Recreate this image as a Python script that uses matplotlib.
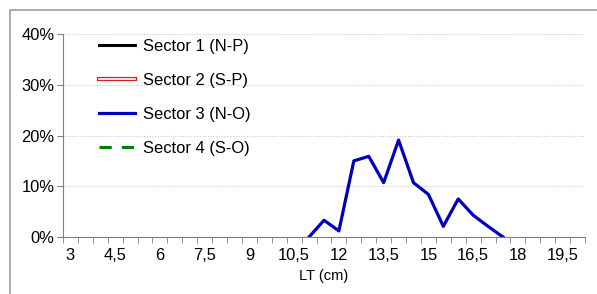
import numpy as np
import matplotlib.pyplot as plt
import matplotlib.patheffects as pe

plt.rcParams['font.family'] = ['Liberation Sans', 'DejaVu Sans']

# size classes (cm), 3 to 20 in steps of 0.5
lt_classes = [3 + 0.5 * i for i in range(35)]
tick_labels = ["3", "4,5", "6", "7,5", "9", "10,5", "12", "13,5", "15",
               "16,5", "18", "19,5"]

# frequencies (%) per sector, NaN = no data
nan = np.nan
sector1 = [nan] * 35
sector2 = [nan] * 35
sector4 = [nan] * 35
sector3 = [nan] * 16 + [0.0, 3.3, 1.2, 15.0, 15.9, 10.7, 19.1, 10.7, 8.4,
                        2.1, 7.5, 4.3, 2.1, 0.0] + [nan] * 5

fig = plt.figure(figsize=(5.97, 2.94), dpi=100)
# outer chart border
fig.patches.append(plt.Rectangle((10 / 597, -0.1), 1.2, (294 - 10) / 294 + 0.1,
                                 transform=fig.transFigure, fill=False,
                                 edgecolor="#a0a0a0", linewidth=1.2))
ax = fig.add_axes([63 / 597, (294 - 237) / 294, (585 - 63) / 597, (237 - 34) / 294])

x = np.arange(len(lt_classes))
ax.plot(x, sector1, color="black", lw=2.2, label="Sector 1 (N-P)")
ax.plot(x, sector2, color="white", lw=1.2, label="Sector 2 (S-P)",
        path_effects=[pe.Stroke(linewidth=3.0, foreground="#d02020"), pe.Normal()])
ax.plot(x, sector3, color="#0000c0", lw=2.3, label="Sector 3 (N-O)")
ax.plot(x, sector4, color="#008000", lw=2.2, ls=(0, (4, 3.3)), label="Sector 4 (S-O)")

ax.set_xlim(-0.5, len(lt_classes) - 0.5)
ax.set_ylim(0, 40)
ax.set_yticks([0, 10, 20, 30, 40])
ax.set_yticklabels(["0%", "10%", "20%", "30%", "40%"], fontsize=11.9)
ax.set_xticks(x[::3])
ax.set_xticklabels(tick_labels, fontsize=11.9)
ax.set_xticks(np.arange(-0.5, len(lt_classes), 1), minor=True)
ax.tick_params(axis="x", which="major", length=0, pad=8)
ax.tick_params(axis="x", which="minor", length=4, color="#808080")
ax.tick_params(axis="y", length=4, color="#808080", pad=2)
ax.grid(axis="y", ls=(0, (1, 1.5)), color="#c8c8c8", lw=0.8)
ax.set_axisbelow(True)

for s in ["top", "right"]:
    ax.spines[s].set_visible(False)
ax.spines["left"].set_color("#808080")
ax.spines["bottom"].set_color("#808080")

ax.set_xlabel("LT (cm)", fontsize=10.5, labelpad=4)

ax.legend(loc="upper left", bbox_to_anchor=(0.04, 1.05), frameon=False,
          fontsize=11.9, handlelength=2.2, handletextpad=0.45, labelspacing=1.15)

fig.savefig("out.png", dpi=100)
